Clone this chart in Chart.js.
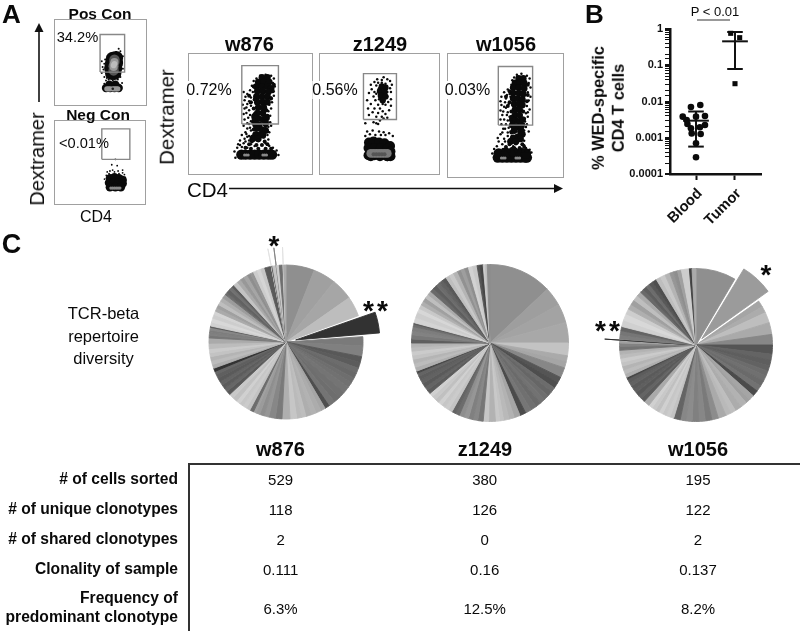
<!DOCTYPE html>
<html><head><meta charset="utf-8">
<script src="https://cdn.jsdelivr.net/npm/chart.js@4/dist/chart.umd.min.js"></script>
<style>
html,body{margin:0;padding:0;background:#fff;width:800px;height:631px;overflow:hidden;font-family:"Liberation Sans",Arial,sans-serif;color:#0a0a0a}
canvas{position:absolute;display:block;filter:blur(.4px)}
.t{position:absolute;white-space:nowrap;line-height:1;transform:translate(-50%,-50%);filter:blur(.2px)}
.r{position:absolute;white-space:nowrap;line-height:1;transform:translate(-100%,-50%);font-weight:bold;font-size:15.6px;filter:blur(.2px)}
.bar{position:absolute;background:#333}
</style></head><body>
<svg width="800" height="631" style="position:absolute;left:0;top:0">
<line x1="39" y1="102" x2="39" y2="30" stroke="#111" stroke-width="1.6"/><polygon points="39,23 34.5,32 43.5,32" fill="#111"/>
<line x1="229" y1="188.5" x2="556" y2="188.5" stroke="#111" stroke-width="1.6"/><polygon points="563,188.5 554,184 554,193" fill="#111"/>
<line x1="697" y1="20" x2="730" y2="20" stroke="#777" stroke-width="1.5"/>
</svg>
<script>
/* ---------- Panel A: flow cytometry events (fluorescence units) ---------- */
const posGate=[[45,31],[74,31],[74,76],[45,76],[45,31]];
const posSpeck=[[49,34],[47,30],[50,41],[48,37],[72,35],[71,43],[70,51],[69,56],[72,50],[67,59],[64,55],[58,52],[54,50],[51,46],[50,25],[53,24],[69,25],[47,44],[55,22],[66,22],[52,21],[60,21],[50,17],[71,18]];
const posCore=[[59,30],[62,30],[58,36],[63,36],[59,42],[64,42],[60,47],[64,48]];
const posMid=[[61,33],[61,38],[62,43],[62,46]];
const posLight=[[61,37],[61,40],[62,43]];
const posPale=[[61,39],[62,41]];
const posBaseCore=[[52,12],[57,12],[62,12],[67,12],[56,16],[63,16]];
const posBaseGray=[[53,11],[55,11],[57,11],[60,11],[62,11],[64,11],[66,11]];
const posBaseEye=[[60,11]];

const negGate=[[47,45],[78,45],[78,79],[47,79],[47,45]];
const negSpeck=[[62,45],[58,39],[64,38],[70,33],[65,32],[59,33],[56,32],[53,31],[55,29],[72,28],[70,30],[61,31],[66,29],[52,27],[73,25],[50,23]];
const negCore=[[56,24],[61,25],[66,24],[70,22],[55,19],[60,19],[65,19],[70,18],[56,14],[62,14],[68,14]];
const negGray=[[57,13],[59,13],[61,13],[63,13],[65,13],[67,13]];

const w876Gate=[[52,49],[92,49],[92,113],[52,113],[52,49]];
const w876Speck=[[72,102],[78,103],[84,102],[68,99],[87,99],[65,96],[86,94],[63,91],[88,90],[66,89],[64,84],[85,84],[87,80],[62,78],[84,78],[56,79],[60,74],[85,73],[58,71],[82,70],[62,69],[55,66],[84,66],[60,64],[81,63],[57,61],[64,58],[83,58],[59,56],[80,55],[62,52],[83,51],[60,49],[65,47],[81,46],[58,44],[62,42],[79,43],[56,40],[63,36],[80,37],[58,35],[60,31],[55,33],[50,31],[81,32],[54,28],[48,27],[62,27],[78,28],[52,24],[47,23],[82,25],[86,23],[58,23],[66,25],[44,19],[90,20],[92,15],[45,12],[54,84],[58,82],[61,86],[55,75],[53,70],[61,72],[57,67],[54,60],[61,59],[55,54],[58,50],[54,47],[61,45],[57,38],[52,37],[50,26],[56,30],[60,36],[82,40],[84,47]];
const w876Core=[[74,100],[80,100],[70,95],[76,95],[82,95],[68,90],[74,90],[80,90],[84,88],[69,85],[75,85],[81,84],[68,79],[74,79],[80,79],[69,73],[75,73],[80,73],[70,67],[76,67],[69,61],[75,61],[70,55],[75,54],[71,48],[74,43],[71,37],[66,57],[79,56],[66,51],[78,50],[68,44],[78,42],[67,37],[75,37],[64,33],[70,33]];
const w876Dense=[[65,66],[79,64],[66,60],[80,58],[65,54],[79,52],[66,48],[78,47],[65,43],[79,41],[67,38],[76,35],[64,35],[70,31],[77,30],[63,30],[68,26],[74,26],[60,27],[80,27],[56,23],[62,22],[70,22],[78,22],[84,22],[66,76],[84,77],[65,90],[87,92],[86,85],[62,73],[60,80]];
const w876Base=[[51.5,15.5],[56,15.5],[61,15.5],[66,15.5],[71,15.5],[76,15.5],[81,15.5],[85,15.5]];
const w876Eye=[[55,15],[57,15],[59,15],[75,15],[77,15],[79,15]];

const z1249Gate=[[42,54],[78,54],[78,104],[42,104],[42,54]];
const z1249Speck=[[64,100],[57,98],[68,98],[71,96],[54,95],[62,97],[50,92],[73,92],[56,91],[71,88],[51,87],[54,84],[72,84],[48,83],[68,79],[53,79],[72,76],[46,75],[55,75],[69,73],[50,71],[58,70],[66,70],[72,69],[47,66],[54,66],[60,66],[63,63],[70,64],[52,62],[58,61],[66,60],[48,59],[56,57],[62,57],[68,56],[60,53],[64,55],[44,50],[53,51],[56,50],[58,49],[46,41],[52,42],[59,41],[64,40],[70,39],[49,38],[55,37],[61,37],[66,37],[74,36],[44,36],[58,94],[66,93],[59,88],[56,82],[59,76],[63,71],[68,84],[62,94]];
const z1249Core=[[62,90],[66,89],[60,85],[65,84],[61,80],[66,79],[63,75]];
const z1249Base=[[48,29],[53,30],[59,29],[65,28],[71,25],[47.5,23],[54,23],[61,23],[68,22],[71.5,19],[47.5,15],[54,15],[61,15],[68,14],[71.5,14],[50,14],[60,14],[68,14]];
const z1249RingGray=[[50,17],[53,17],[56,17],[59,17],[62,17],[65,17],[68,17]];
const z1249RingDark=[[53,16],[56,16],[59,16],[62,16],[65,16]];

const w1056Gate=[[49.6,51],[87.3,51],[87.3,115],[49.6,115],[49.6,51]];
const w1056Speck=[[70,106],[75,107],[81,105],[67,103],[84,102],[65,100],[83,97],[64,95],[85,92],[60,90],[82,87],[62,85],[85,82],[58,80],[63,82],[83,78],[57,76],[61,74],[81,72],[53,73],[58,70],[84,68],[55,66],[60,65],[80,64],[54,62],[62,60],[82,60],[56,57],[64,55],[79,55],[58,52],[61,48],[80,49],[55,47],[63,44],[78,45],[52,41],[60,39],[77,40],[56,36],[62,33],[78,34],[50,33],[54,30],[48,28],[78,29],[45,25],[80,26],[84,24],[58,27],[66,28],[86,21],[43,20],[56,87],[53,82],[59,84],[52,77],[56,71],[52,67],[59,62],[52,57],[60,56],[53,52],[57,47],[60,43],[54,43],[49,37],[57,33],[82,65],[81,52],[83,44]];
const w1056Core=[[72,102],[77,102],[68,97],[73,97],[78,97],[66,92],[72,92],[78,91],[66,86],[72,86],[77,85],[66,80],[71,80],[76,79],[67,74],[72,74],[76,73],[68,68],[73,68],[68,62],[73,62],[69,56],[73,55],[70,49],[74,44],[71,38],[65,57],[76,57],[65,51],[75,50],[67,45],[76,41],[66,37],[74,36],[63,33],[69,33]];
const w1056Dense=[[64,66],[77,66],[64,60],[78,58],[65,54],[77,52],[66,48],[76,46],[64,43],[77,41],[66,38],[75,35],[63,35],[69,31],[76,30],[62,30],[67,26],[73,26],[58,27],[78,27],[55,24],[61,23],[69,23],[77,23],[81,23],[62,76],[81,77],[62,88],[82,95],[82,84],[60,72],[58,82]];
const w1056Base=[[49,15.5],[54,15.5],[59,15.5],[64,15.5],[69,15.5],[74,15.5],[79,15.5],[81,15.5],[50,20],[58,21],[66,22],[74,21],[80,20]];
const w1056Eye=[[53,15],[55,15],[57,15],[69,15],[71,15],[73,15]];

/* ---------- Panel B ---------- */
const groupTicks=[0,1];
const groupNames=['Blood','Tumor'];
const majorLabels={'1':'1','0.1':'0.1','0.01':'0.01','0.001':'0.001','0.0001':'0.0001'};
const bloodPos=[0.11,-0.13,-0.34,-0.24,0,0.23,-0.22,0.23,-0.13,0.10,-0.11,0.12,0,0];
const bloodVal=[0.008,0.00705,0.00382,0.00309,0.00382,0.00398,0.0024,0.00225,0.00182,0.00194,0.00132,0.00127,0.0007,0.00029];
const tumorPos=[0.89,1.12,1];
const tumorVal=[0.76,0.576,0.031];
const bloodMean=0.00296, bloodHi=0.0053, bloodLo=0.00057;
const tumorMean=0.457, tumorHi=0.826, tumorLo=0.0789;

/* ---------- Panel C: clonotype shares (in 1/360 of the repertoire) ---------- */
const w876Share=[21.5,17,16.5,15,16,7,8,4.5,4.5,4,4,4,4,5,5,5,5,3.5,3.5,4,4,4,3.5,3.5,5,6,5,5,3.5,3.5,3,2,3,3,3,3,3,3.5,3.5,3,3,3,3,3,3,2.5,2.5,3,3,3,3,3,4,4,2,2,2,2,1,3,3,3,2.6,2.7,2.7,3,3,3,2,3,2.5,2,3.5,3,3,3,2.5,2.5,3,3,3,4.7,0.6,0.7,2.3,0.7,2,2,0.6,0.6,1.8];
const w876Gray=[143,160,166,189,50,122,128,88,92,108,104,110,113,116,112,110,116,78,165,172,178,174,190,186,198,175,122,135,150,142,155,160,108,195,203,198,208,192,200,88,102,92,100,90,95,103,50,175,188,180,195,203,188,170,118,128,125,135,90,208,216,205,212,170,160,190,175,155,108,98,112,92,195,170,152,165,142,150,205,213,198,90,225,85,195,130,205,110,120,225,170];
const w876Burst={4:17,82:18,85:18,89:18};

const z1249Share=[46.8,14,14,15.2,9.4,4.5,4.6,7.5,4.5,4.5,3.5,4,3.5,4,4,4.5,4.5,4.5,4.5,4,4,3,3,5,4,4,3.5,3.5,3.5,3.5,3,3,3,3,3,3,3,3,3,3,3,3,3,3,2.5,1.5,3,3,3,3,3,3,3,3,3,3,3,2,1,4,4,3,3,3,3,3,3,3,3,3,3,3,3,3.3,3.3,2.8,2.8,2.8,3.2,3.3,2.2,2.3,1.5,1.5,2];
const z1249Gray=[143,158,163,168,195,170,165,135,85,78,108,102,110,114,106,112,118,75,165,178,185,195,200,178,198,118,135,128,150,142,108,100,195,203,198,208,192,200,208,92,100,90,98,93,100,70,175,188,180,195,203,188,178,95,120,130,125,110,90,212,205,215,200,175,160,190,170,105,94,108,98,88,190,200,180,145,158,142,210,200,85,70,205,190,140];

const w1056Share=[30.5,24.5,5,5,8,9,8,7,4.5,4.5,4,4,4,4.5,4.5,4.6,3.7,3.7,5,5,4,4,6,5,5,5,5,4.5,4.5,5,3,3,3,3,3,3,3,4.5,3,3,3,3,3,3,3,1.5,3,3,3,3,3,3,3,3,2.5,1.5,1.4,3.2,3.2,3.2,5,5,4,4,4,4,3.6,3,3,3,3,3.2,3.7,3.7,3.8,3,3,3,6,2,3];
const w1056Gray=[143,155,165,172,190,170,135,85,100,94,98,108,112,106,114,75,165,160,178,172,190,185,170,140,122,135,128,140,135,100,195,203,198,208,192,200,208,170,92,100,88,95,90,98,92,70,175,188,180,195,203,188,178,115,130,160,45,125,118,100,208,216,205,175,160,190,170,105,94,108,88,78,190,200,180,150,142,160,205,65,170];
const w1056Burst={1:13.5,56:15};

/* ---------- Text ---------- */
const sampleNames=['w876','z1249','w1056'];
const rowLabels=['# of cells sorted','# of unique clonotypes','# of shared clonotypes','Clonality of sample'];
const cellsSorted=['529','380','195'];
const uniqueClonotypes=['118','126','122'];
const sharedClonotypes=['2','0','2'];
const clonality=['0.111','0.16','0.137'];
const predominant=['6.3%','12.5%','8.2%'];

function addText(s,x,y,size,opt){opt=opt||{};
  const d=document.createElement('div');d.className='t';d.textContent=s;
  d.style.left=x+'px';d.style.top=y+'px';d.style.fontSize=size+'px';
  if(opt.bold)d.style.fontWeight='bold';
  if(opt.bg){d.style.background='#fff';d.style.padding='1px 0';}
  if(opt.rot)d.style.transform='translate(-50%,-50%) rotate(-90deg)';
  if(opt.ls)d.style.letterSpacing=opt.ls;
  d.style.zIndex=5;document.body.appendChild(d);}
function addRight(s,x,y){const d=document.createElement('div');d.className='r';d.textContent=s;d.style.left=x+'px';d.style.top=y+'px';document.body.appendChild(d);}
function addBar(x,y,w,h){const d=document.createElement('div');d.className='bar';d.style.cssText+=`left:${x}px;top:${y}px;width:${w}px;height:${h}px`;document.body.appendChild(d);}
function canvas(x,y,w,h,border){const c=document.createElement('canvas');c.width=w;c.height=h;c.style.left=x+'px';c.style.top=y+'px';c.style.width=w+'px';c.style.height=h+'px';
  if(border)c.style.outline='1.5px solid #a0a0a0';document.body.appendChild(c);return c;}
const toXY=a=>a.map(p=>({x:p[0],y:p[1]}));
const base={responsive:false,animation:false,plugins:{legend:{display:false},tooltip:{enabled:false}}};

function flow(box,layers,gate){
  const [x,y,w,h]=box;
  const ds=layers.slice().reverse().map(l=>({data:toXY(l[0]),pointRadius:l[1],backgroundColor:l[2],borderWidth:0,pointBorderWidth:0,showLine:false}));
  ds.unshift({data:toXY(gate),showLine:true,pointRadius:0,borderColor:'#888',borderWidth:1.4,tension:0,fill:false});
  new Chart(canvas(x,y,w,h,true),{type:'scatter',data:{datasets:ds},options:{...base,layout:{padding:0},
    scales:{x:{display:false,min:0,max:w},y:{display:false,min:0,max:h}}}});
}
const K='#0a0a0a';
flow([55,20,91,85],[[posCore,7,K],[posBaseCore,4.2,K],[posSpeck,1,K],[posMid,5.2,'#555'],[posLight,4,'#999'],[posPale,2.8,'#bcbcbc'],[posBaseGray,2.6,'#999'],[posBaseEye,1.3,'#222']],posGate);
flow([55,121,90,83],[[negCore,4.3,K],[negSpeck,0.9,K],[negGray,1.6,'#888']],negGate);
flow([188.5,54,123,120],[[w876Base,5.2,K],[w876Core,3.4,K],[w876Dense,2,K],[w876Speck,1.25,K],[w876Eye,1.5,'#888']],w876Gate);
flow([320,54,119,120],[[z1249Base,5,K],[z1249Core,3.2,K],[z1249Speck,1.25,K],[z1249RingGray,4.4,'#7a7a7a'],[z1249RingDark,2,'#555']],z1249Gate);
flow([447.7,54,115,123],[[w1056Base,5.2,K],[w1056Core,3.4,K],[w1056Dense,2,K],[w1056Speck,1.25,K],[w1056Eye,1.5,'#888']],w1056Gate);

/* Panel B chart */
const seg=(x0,x1,y0,y1)=>({data:[{x:x0,y:y0},{x:x1,y:y1}],showLine:true,pointRadius:0,borderColor:'#111',borderWidth:2});
new Chart(canvas(580,20,190,210),{type:'scatter',data:{datasets:[
  {data:bloodPos.map((p,i)=>({x:p,y:bloodVal[i]})),pointStyle:'circle',pointRadius:3.3,backgroundColor:'#0a0a0a',pointBorderWidth:0},
  {data:tumorPos.map((p,i)=>({x:p,y:tumorVal[i]})),pointStyle:'rect',pointRadius:3.6,backgroundColor:'#0a0a0a',pointBorderWidth:0},
  seg(-0.33,0.33,bloodMean,bloodMean),seg(0,0,bloodLo,bloodHi),seg(-0.2,0.2,bloodHi,bloodHi),seg(-0.2,0.2,bloodLo,bloodLo),
  seg(0.67,1.33,tumorMean,tumorMean),seg(1,1,tumorLo,tumorHi),seg(0.8,1.2,tumorHi,tumorHi),seg(0.8,1.2,tumorLo,tumorLo)
]},options:{...base,layout:{padding:{top:9,right:9,left:0,bottom:0}},
  scales:{
    x:{type:'linear',min:-0.667,max:1.667,afterBuildTicks:s=>{s.ticks=groupTicks.map(v=>({value:v}));},
      afterFit:s=>{s.height=56;},
      grid:{drawOnChartArea:false,drawTicks:true,tickLength:6,tickWidth:2,color:'#111'},border:{color:'#111',width:2.5},
      ticks:{callback:v=>groupNames[v],autoSkip:false,maxRotation:45,minRotation:45,padding:5,labelOffset:4,color:'#111',font:{family:'"Liberation Sans"',weight:'bold',size:14.8}}},
    y:{type:'logarithmic',min:0.0001,max:1,afterFit:s=>{s.width=90;},
      grid:{drawOnChartArea:false,drawTicks:true,tickLength:5,color:'#111',
        lineWidth:c=>majorLabels[String(+c.tick.value.toPrecision(2))]?2:1},
      border:{color:'#111',width:2.5},
      ticks:{autoSkip:false,padding:2,color:'#111',font:{family:'"Liberation Sans"',weight:'bold',size:11},
        callback:v=>majorLabels[String(+(+v).toPrecision(2))]||''}}
  }}});

/* Pies: Chart.js moves an arc by offset/4*(2-sin(angle)), so convert the wanted shift */
function pie(cx,cy,R,share,gray,burst){
  const S=240;
  const col=gray.map(g=>`rgb(${g},${g},${g})`);
  const total=share.reduce((a,b)=>a+b,0);
  const off=share.map((v,i)=>{
    if(!burst||!burst[i])return 0;
    const ang=v/total*2*Math.PI;
    return burst[i]*4/(2-Math.sin(Math.min(Math.PI,ang)));});
  const c=canvas(cx-S/2,cy-S/2,S,S);c.style.filter='blur(.7px)';
  new Chart(c,{type:'pie',data:{labels:share.map((_,i)=>'TCR '+(i+1)),datasets:[{data:share,backgroundColor:col,borderColor:col,borderWidth:0.9,offset:off}]},
    options:{...base,radius:R,layout:{padding:0}}});
}
pie(285.7,342.3,77,w876Share,w876Gray,w876Burst);
pie(490,342.7,78.5,z1249Share,z1249Gray,null);
pie(696,345,76.5,w1056Share,w1056Gray,w1056Burst);

/* Labels */
addText('A',11.5,14,26,{bold:true});addText('B',594.5,14,26,{bold:true});addText('C',11.5,244,27,{bold:true});
addText('Pos Con',100,14,15.5,{bold:true});addText('Neg Con',98,115,15.5,{bold:true});
addText('CD4',96,217,16);
addText('34.2%',77.5,37,14.7);addText('<0.01%',84,143,14.6);
addText('Dextramer',37,158.5,20,{rot:true});addText('Dextramer',167,116.5,20.5,{rot:true});
addText('CD4',207.5,189.5,20.5);
addText(sampleNames[0],249.5,44,20,{bold:true});addText(sampleNames[1],380,44,20,{bold:true});addText(sampleNames[2],506,44,20,{bold:true});
addText('0.72%',209,90,16,{bg:true});addText('0.56%',335,90,16,{bg:true});addText('0.03%',467.5,90,16,{bg:true});
addText('P < 0.01',715,11,13);
addText('% WED-specific',598,108,16.4,{bold:true,rot:true});addText('CD4 T cells',618,108,16.4,{bold:true,rot:true});
addText('TCR-beta',103.5,313,16.5);addText('repertoire',103.5,336,16.5);addText('diversity',103.5,358,16.5);
addText('*',274,246,28,{bold:true});addText('**',377,311,28,{ls:'3px',bold:true});addText('*',766,275,28,{bold:true});addText('**',609,331,28,{ls:'3px',bold:true});
/* Table */
addText(sampleNames[0],280.5,449,20,{bold:true});addText(sampleNames[1],485,449,20,{bold:true});addText(sampleNames[2],698,449,20,{bold:true});
addBar(189,463,611,2);addBar(188,463,2,168);
const rowY=[479,509,539,568.5];
rowLabels.forEach((s,i)=>addRight(s,178,rowY[i]));
addRight('Frequency of',178,598);addRight('predominant clonotype',178,617);
const colX=[280.6,484.7,698];
[cellsSorted,uniqueClonotypes,sharedClonotypes,clonality].forEach((row,i)=>row.forEach((s,j)=>addText(s,colX[j],rowY[i],15)));
predominant.forEach((s,j)=>addText(s,colX[j],607.5,15));
</script>
</body></html>
